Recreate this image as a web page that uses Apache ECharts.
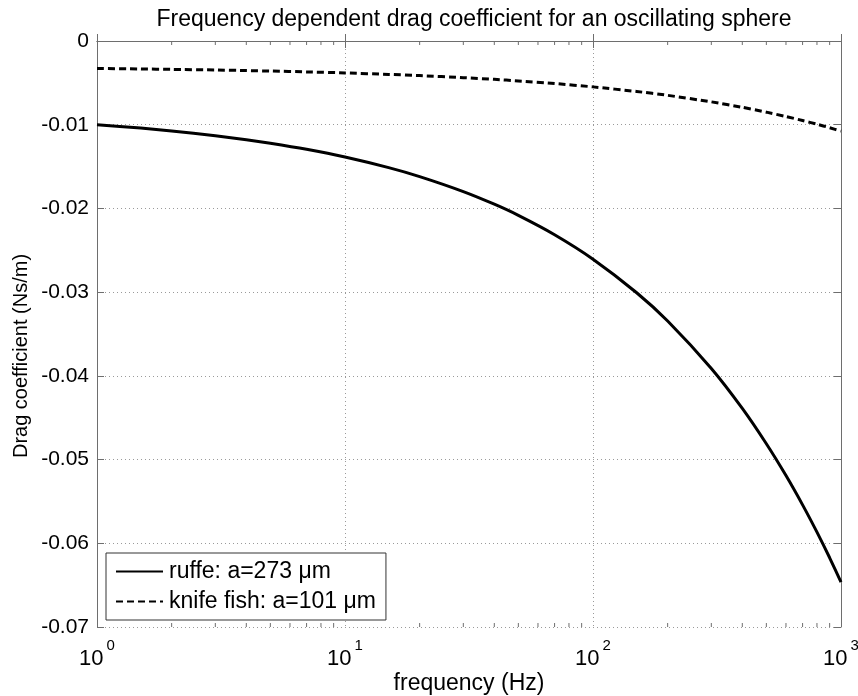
<!DOCTYPE html>
<html>
<head>
<meta charset="utf-8">
<script src="https://cdn.jsdelivr.net/npm/echarts@6/dist/echarts.min.js"></script>
<style>
html,body{margin:0;padding:0;background:#fff;}
#chart{width:858px;height:696px;}
</style>
</head>
<body>
<div id="chart"></div>
<script>
// Data
var freq = [1,1.5,2,3,4,5,7,10,15,20,30,40,50,70,100,150,200,300,400,500,600,700,800,900,1000];
var ruffe = [-0.01000,-0.01040,-0.01074,-0.01131,-0.01179,-0.01221,-0.01294,-0.01386,-0.01513,-0.01620,-0.01799,-0.01950,-0.02083,-0.02314,-0.02606,-0.03007,-0.03345,-0.03912,-0.04389,-0.04811,-0.05191,-0.05541,-0.05867,-0.06173,-0.06463];
var knife = [-0.00328,-0.00334,-0.00339,-0.00346,-0.00353,-0.00359,-0.00369,-0.00381,-0.00399,-0.00413,-0.00438,-0.00458,-0.00477,-0.00508,-0.00548,-0.00603,-0.00649,-0.00727,-0.00792,-0.00850,-0.00902,-0.00950,-0.00994,-0.01036,-0.01076];
var seriesNames = ['ruffe: a=273 \u03bcm', 'knife fish: a=101 \u03bcm'];
var minorTickValues = [2,3,4,5,6,7,8,9,20,30,40,50,60,70,80,90,200,300,400,500,600,700,800,900];
var yTickLabels = ['0','-0.01','-0.02','-0.03','-0.04','-0.05','-0.06','-0.07'];
var titleText = 'Frequency dependent drag coefficient for an oscillating sphere';
var xName = 'frequency (Hz)';
var yName = 'Drag coefficient (Ns/m)';

var FONT = '"Liberation Sans", Arial, sans-serif';
var X_MIN = 1, X_MAX = 1000, Y_MIN = -0.07, Y_MAX = 0;

function pairs(xs, ys){ return xs.map(function(x,i){ return [x, ys[i]]; }); }

var chart = echarts.init(document.getElementById('chart'), null, {renderer:'canvas'});

var axisLineStyle = {color:'#6e6e6e', width:1};
var gridLineStyle = {color:'#9a9a9a', type:[1,3], width:1};

var option = {
  backgroundColor:'#ffffff',
  animation:false,
  title:{
    text:titleText,
    left:469, top:3, textAlign:'center',
    textStyle:{fontFamily:FONT, fontSize:23, fontWeight:'normal', color:'#000'}
  },
  grid:{left:97, top:41, right:17, bottom:69, containLabel:false, outerBoundsMode:'none'},
  legend:{
    orient:'vertical',
    left:106, top:553,
    data:seriesNames,
    itemWidth:47, itemHeight:14, itemGap:7,
    padding:[7,10,7,9],
    borderColor:'#333', borderWidth:1, backgroundColor:'#fff',
    itemStyle:{color:'transparent', borderWidth:0, opacity:0},
    textStyle:{fontFamily:FONT, fontSize:23, color:'#000', padding:[0,0,0,1]}
  },
  xAxis:[{
    type:'log', logBase:10, min:X_MIN, max:X_MAX,
    name:xName, nameLocation:'middle', nameGap:45, nameMoveOverlap:false,
    nameTextStyle:{fontFamily:FONT, fontSize:23, color:'#000'},
    axisLine:{show:true, lineStyle:axisLineStyle},
    axisTick:{show:true, inside:true, length:7, lineStyle:axisLineStyle},
    minorTick:{show:false},
    splitLine:{show:true, lineStyle:gridLineStyle},
    axisLabel:{
      margin:21,
      formatter:function(v){ return '{b|10}{s|' + Math.round(Math.log10(v)) + '}'; },
      rich:{
        b:{fontFamily:FONT, fontSize:22, color:'#000', lineHeight:22, verticalAlign:'middle'},
        s:{fontFamily:FONT, fontSize:15, color:'#000', lineHeight:15, verticalAlign:'middle', padding:[0,0,27,3]}
      }
    }
  },{
    type:'log', logBase:10, min:X_MIN, max:X_MAX, position:'top',
    axisLine:{show:true, lineStyle:axisLineStyle},
    axisTick:{show:true, inside:true, length:7, lineStyle:axisLineStyle},
    axisLabel:{show:false}, splitLine:{show:false}
  }],
  yAxis:[{
    type:'value', min:Y_MIN, max:Y_MAX, interval:0.01,
    name:yName, nameLocation:'middle', nameGap:66, nameRotate:90, nameMoveOverlap:false,
    nameTextStyle:{fontFamily:FONT, fontSize:20, color:'#000', padding:[0,44,0,0]},
    axisLine:{show:true, lineStyle:axisLineStyle},
    axisTick:{show:true, inside:true, length:7, lineStyle:axisLineStyle},
    splitLine:{show:true, lineStyle:gridLineStyle},
    axisLabel:{
      margin:8, fontFamily:FONT, fontSize:21, color:'#000',
      formatter:function(v){ var i = Math.round(-v/0.01); return yTickLabels[i]; }
    }
  },{
    type:'value', min:Y_MIN, max:Y_MAX, interval:0.01, position:'right',
    axisLine:{show:true, lineStyle:axisLineStyle},
    axisTick:{show:true, inside:true, length:7, lineStyle:axisLineStyle},
    axisLabel:{show:false}, splitLine:{show:false}
  }],
  series:[{
    name:seriesNames[0], type:'line', xAxisIndex:0, yAxisIndex:0,
    data:pairs(freq, ruffe), symbol:'none', showSymbol:false, smooth:0.2,
    lineStyle:{color:'#000', width:3, type:'solid'},
    itemStyle:{color:'#000'}, z:5
  },{
    name:seriesNames[1], type:'line', xAxisIndex:0, yAxisIndex:0,
    data:pairs(freq, knife), symbol:'none', showSymbol:false, smooth:0.2,
    lineStyle:{color:'#000', width:3, type:[7,4]},
    itemStyle:{color:'#000'}, z:5
  },{
    type:'custom', xAxisIndex:0, yAxisIndex:0, silent:true, z:3,
    data:minorTickValues.map(function(v){ return [v]; }),
    renderItem:function(params, api){
      var f = api.value(0);
      var b = api.coord([f, Y_MIN]);
      var t = api.coord([f, Y_MAX]);
      var st = {stroke:'#6e6e6e', lineWidth:1};
      return {type:'group', children:[
        {type:'line', shape:{x1:b[0], y1:b[1], x2:b[0], y2:b[1]-4}, style:st},
        {type:'line', shape:{x1:t[0], y1:t[1], x2:t[0], y2:t[1]+4}, style:st}
      ]};
    }
  }]
};
chart.setOption(option);
</script>
</body>
</html>
